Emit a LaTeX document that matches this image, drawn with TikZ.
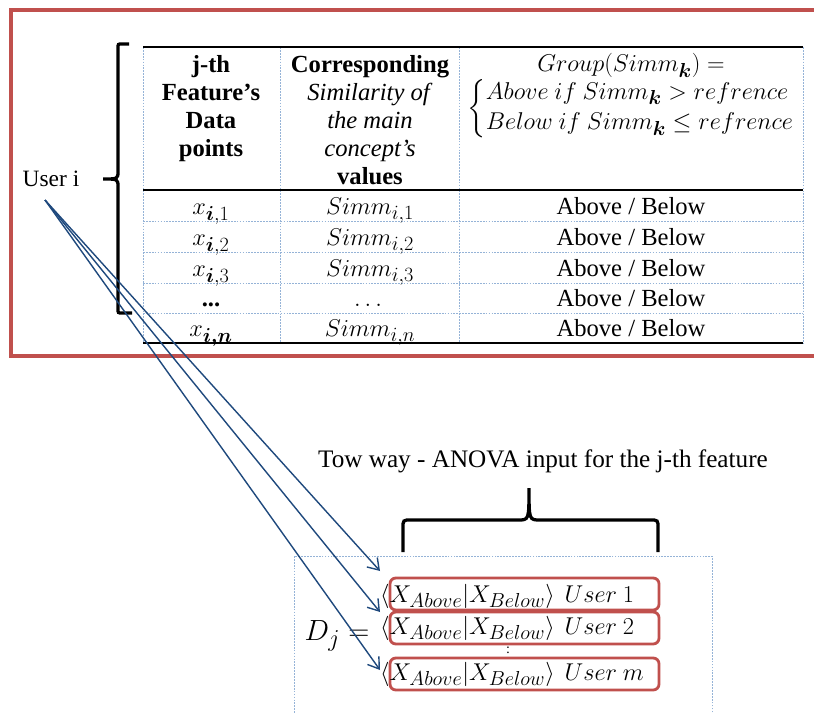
\documentclass[tikz,border=0pt]{standalone}
\usepackage{amsmath}
\usepackage{fontspec}
\setmainfont{Liberation Serif}
\usetikzlibrary{arrows.meta}
\DeclareMathSizes{21}{21}{16}{12}
\DeclareMathSizes{20}{20}{16}{12}

\definecolor{framered}{HTML}{C0504D}
\definecolor{linkblue}{HTML}{1F497D}
\definecolor{gridblue}{HTML}{95B3D7}

\tikzset{
  cell/.style={inner sep=0pt, font=\fontsize{21}{24}\selectfont},
  gridline/.style={gridblue, line width=0.6pt, dash pattern=on 1.5pt off 1pt},
  tablerule/.style={black, line width=1.8pt},
  bigbrace/.style={black, line width=2.8pt},
  userbox/.style={draw=framered, line width=2.4pt, rounded corners=5pt,
    minimum width=8.07cm, minimum height=0.96cm},
  rowtext/.style={anchor=west, inner sep=0pt, font=\fontsize{20}{22}\selectfont},
  link/.style={linkblue, line width=1.2pt, -{Straight Barb[length=9pt,width=12pt]}}
}

\begin{document}
\begin{tikzpicture}[x=0.03cm,y=-0.03cm]
  \useasboundingbox (0,0) rectangle (814,713);

  % Frame and table
  \draw[framered, line width=2.6pt] (11,10) rectangle (840,356);
  \foreach \xx in {143,280,459,803}
    \draw[gridline] (\xx,47) -- (\xx,343);
  \foreach \yy in {221,252,283,313}
    \draw[gridline] (143,\yy) -- (803,\yy);
  \foreach \yy in {47,190,343}
    \draw[tablerule] (143,\yy) -- (803,\yy);

  % Header
  \node[cell, anchor=north, align=center, font=\fontsize{21}{24}\selectfont\bfseries] (hfeat) at (211,55)
    {j-th\\Feature’s\\Data\\points};
  \node[cell, anchor=north, align=center] (hsim) at (370,55)
    {\textbf{Corresponding}\\\textit{Similarity of}\\\textit{the main}\\\textit{concept’s}\\\textbf{values}};
  \node[cell, anchor=north, align=center, font=\fontsize{20}{23}\selectfont] (hgroup) at (631,53)
    {$Group(Simm_{\boldsymbol{k}}) =$\\[1pt]
     $\left\{\begin{array}{@{}l@{}}
       Above~if~Simm_{\boldsymbol{k}} > refrence\\[3pt]
       Below~if~Simm_{\boldsymbol{k}} \leq refrence
     \end{array}\right.$};

  % Rows
  \foreach \yy/\xv/\sv [count=\k] in {
      215/{$x_{\boldsymbol{i},1}$}/{$Simm_{i,1}$},
      246/{$x_{\boldsymbol{i},2}$}/{$Simm_{i,2}$},
      277/{$x_{\boldsymbol{i},3}$}/{$Simm_{i,3}$},
      307/{\textbf{...}}/{$\dots$},
      337/{$x_{\boldsymbol{i,n}}$}/{$Simm_{i,n}$}} {
    \node[cell, anchor=base] (feat\k) at (211,\yy) {\xv};
    \node[cell, anchor=base] (sim\k) at (370,\yy) {\sv};
    \node[cell, anchor=base] (grp\k) at (631,\yy) {Above / Below};
  }

  % User i and its brace
  \node[font=\fontsize{20}{22}\selectfont] (user) at (51,179) {User i};
  \draw[bigbrace] (129,44) -- (122,44) .. controls (118,44) .. (118,48) -- (118,171)
    .. controls (118,179) .. (103,179) .. controls (118,179) .. (118,187) -- (118,309)
    .. controls (118,313) .. (122,313) -- (132,313);

  % ANOVA input
  \node[cell, font=\fontsize{21.5}{24}\selectfont] (anova) at (543,461) {Tow way - ANOVA input for the j-th feature};
  \draw[bigbrace] (403,552) -- (403,528) .. controls (403,520) .. (411,520) -- (518,520)
    .. controls (529,520) .. (529,488) .. controls (529,520) .. (540,520) -- (650,520)
    .. controls (658,520) .. (658,528) -- (658,552);
  \draw[gridline] (294,556) rectangle (712,740);
  \node[font=\fontsize{28}{30}\selectfont] (dj) at (337,636) {$D_j =$};

  \node[userbox] (box1) at (524.5,594) {};
  \node[userbox] (box2) at (524.5,628) {};
  \node[userbox] (boxm) at (524.5,674) {};
  \node[rowtext] (row1) at (380,596)
    {$\left\langle X_{Above}\middle| X_{Below}\right\rangle~User~1$};
  \node[rowtext] (row2) at (380,628)
    {$\left\langle X_{Above}\middle| X_{Below}\right\rangle~User~2$};
  \node[rowtext] (rowm) at (380,674)
    {$\left\langle X_{Above}\middle| X_{Below}\right\rangle~User~m$};
  \node[font=\fontsize{12}{12}\selectfont] (dots) at (508,650) {:};

  % Arrows
  \coordinate (in1) at (380,571);
  \coordinate (in2) at (380,612);
  \coordinate (inm) at (380,670);
  \foreach \t in {in1,in2,inm}
    \draw[link] ([shift={(-6,9)}]user.south) -- (\t);
\end{tikzpicture}
\end{document}
